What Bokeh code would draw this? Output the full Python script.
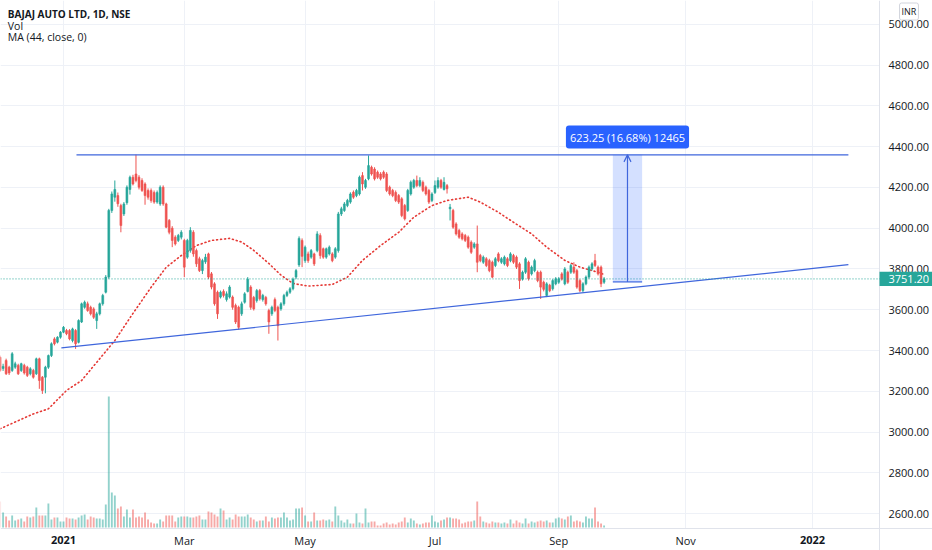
from bokeh.plotting import figure
from bokeh.models import (Range1d, FixedTicker, NumeralTickFormatter, ColumnDataSource, Label,
                          Arrow, OpenHead, Span, BoxAnnotation)
from bokeh.embed import file_html
from bokeh.resources import INLINE

# ---------------- data (bar index 0 = first session of 2021) ----------------
FIRST_BAR = -21
opens = [3367, 3312, 3351, 3318, 3302, 3318, 3327, 3302, 3327, 3318,
         3286, 3302, 3286, 3359, 3269, 3269, 3318, 3375, 3457, 3441,
         3465, 3490, 3498, 3498, 3449, 3498, 3440, 3540, 3612, 3629,
         3612, 3604, 3547, 3580, 3629, 3686, 3760, 4087, 4152, 4160,
         4111, 4070, 4125, 4190, 4250, 4266, 4250, 4234, 4217, 4185,
         4185, 4175, 4128, 4119, 4201, 4119, 4038, 4000, 3956, 3940,
         3956, 3940, 3858, 3890, 3980, 3890, 3850, 3792, 3835, 3874,
         3776, 3727, 3686, 3662, 3690, 3650, 3662, 3662, 3621, 3612,
         3580, 3637, 3690, 3711, 3660, 3645, 3694, 3650, 3660, 3596,
         3580, 3650, 3612, 3604, 3629, 3670, 3686, 3703, 3760, 3820,
         3940, 3841, 3874, 3858, 3874, 3890, 3964, 3899, 3858, 3874,
         3874, 3858, 3890, 4070, 4087, 4111, 4128, 4176, 4160, 4168,
         4258, 4201, 4242, 4299, 4290, 4275, 4266, 4275, 4266, 4201,
         4185, 4175, 4160, 4144, 4111, 4087, 4168, 4201, 4234, 4209,
         4225, 4201, 4185, 4136, 4175, 4201, 4234, 4190, 4209, 4095,
         4087, 4021, 3989, 3972, 3964, 3956, 3931, 3907, 3923, 3866,
         3833, 3850, 3841, 3833, 3817, 3874, 3833, 3825, 3850, 3841,
         3866, 3858, 3825, 3750, 3784, 3833, 3776, 3792, 3784, 3784,
         3735, 3670, 3720, 3703, 3727, 3735, 3776, 3727, 3784, 3784,
         3809, 3792, 3743, 3694, 3727, 3760, 3800, 3841, 3809, 3809,
         3735]
closes = [3302, 3322, 3286, 3290, 3384, 3335, 3286, 3335, 3290, 3278,
          3310, 3269, 3359, 3253, 3204, 3318, 3375, 3433, 3433, 3465,
          3490, 3514, 3482, 3457, 3506, 3433, 3547, 3629, 3637, 3596,
          3580, 3563, 3580, 3629, 3670, 3760, 4087, 4168, 4190, 4120,
          4013, 4119, 4201, 4250, 4217, 4234, 4201, 4185, 4160, 4152,
          4136, 4128, 4175, 4201, 4119, 4005, 3980, 3940, 3923, 3964,
          3980, 3809, 3940, 3989, 3874, 3825, 3792, 3841, 3858, 3760,
          3711, 3629, 3580, 3686, 3670, 3678, 3711, 3612, 3540, 3514,
          3629, 3678, 3750, 3612, 3604, 3694, 3654, 3670, 3629, 3540,
          3612, 3596, 3522, 3629, 3670, 3686, 3703, 3750, 3792, 3950,
          3862, 3907, 3841, 3890, 3825, 3972, 3866, 3858, 3899, 3907,
          3841, 3899, 4070, 4095, 4119, 4136, 4168, 4152, 4185, 4250,
          4217, 4234, 4307, 4266, 4242, 4250, 4242, 4250, 4185, 4168,
          4160, 4136, 4128, 4062, 4046, 4185, 4226, 4234, 4209, 4234,
          4185, 4168, 4128, 4168, 4209, 4234, 4201, 4225, 4193, 4103,
          4005, 3972, 3956, 3948, 3940, 3907, 3882, 3923, 3833, 3841,
          3858, 3817, 3792, 3760, 3850, 3841, 3850, 3858, 3817, 3874,
          3833, 3809, 3743, 3784, 3850, 3752, 3809, 3841, 3743, 3711,
          3700, 3727, 3694, 3743, 3752, 3752, 3750, 3800, 3735, 3817,
          3784, 3711, 3694, 3727, 3760, 3809, 3825, 3817, 3776, 3727,
          3751.20]
highs = [3375, 3335, 3360, 3325, 3392, 3345, 3335, 3340, 3335, 3325,
         3318, 3310, 3365, 3365, 3275, 3325, 3380, 3440, 3465, 3470,
         3495, 3520, 3506, 3505, 3512, 3505, 3553, 3635, 3645, 3640,
         3620, 3612, 3590, 3635, 3678, 3770, 4095, 4180, 4234, 4175,
         4120, 4128, 4210, 4258, 4262, 4361, 4260, 4245, 4225, 4195,
         4195, 4185, 4185, 4210, 4210, 4125, 4045, 4010, 3965, 3972,
         3990, 3948, 3948, 4005, 3990, 3900, 3860, 3850, 3874, 3880,
         3785, 3735, 3694, 3694, 3700, 3690, 3720, 3670, 3630, 3620,
         3640, 3686, 3760, 3720, 3668, 3702, 3702, 3678, 3668, 3605,
         3620, 3660, 3620, 3637, 3678, 3694, 3711, 3758, 3800, 3960,
         3950, 3915, 3885, 3898, 3880, 3985, 3975, 3905, 3905, 3915,
         3882, 3907, 4080, 4105, 4128, 4144, 4176, 4185, 4193, 4258,
         4275, 4242, 4357, 4307, 4299, 4283, 4275, 4283, 4275, 4209,
         4193, 4185, 4168, 4152, 4119, 4193, 4234, 4242, 4258, 4250,
         4234, 4209, 4193, 4176, 4234, 4250, 4242, 4250, 4217, 4119,
         4095, 4029, 3997, 3980, 3972, 3964, 3940, 3931, 4013, 3874,
         3866, 3858, 3850, 3841, 3858, 3882, 3858, 3866, 3858, 3882,
         3874, 3866, 3833, 3792, 3858, 3841, 3817, 3850, 3792, 3792,
         3743, 3735, 3727, 3750, 3760, 3760, 3784, 3809, 3792, 3825,
         3833, 3800, 3750, 3735, 3768, 3817, 3833, 3874, 3817, 3817,
         3760]
lows = [3295, 3300, 3280, 3280, 3295, 3310, 3280, 3295, 3282, 3270,
        3278, 3262, 3280, 3212, 3187, 3190, 3310, 3368, 3425, 3435,
        3458, 3485, 3475, 3450, 3440, 3408, 3435, 3535, 3605, 3590,
        3572, 3555, 3506, 3572, 3620, 3680, 3752, 4075, 4130, 4105,
        3980, 4060, 4115, 4165, 4210, 4225, 4190, 4178, 4115, 4140,
        4125, 4120, 4120, 4110, 4110, 4000, 3970, 3907, 3915, 3932,
        3945, 3760, 3850, 3880, 3860, 3810, 3785, 3775, 3825, 3750,
        3700, 3620, 3555, 3655, 3660, 3640, 3655, 3600, 3530, 3502,
        3570, 3630, 3685, 3600, 3596, 3635, 3645, 3640, 3620, 3482,
        3570, 3588, 3449, 3595, 3620, 3662, 3678, 3695, 3750, 3810,
        3809, 3830, 3830, 3850, 3815, 3882, 3850, 3850, 3850, 3866,
        3833, 3850, 3880, 4060, 4080, 4103, 4120, 4144, 4152, 4160,
        4185, 4193, 4235, 4258, 4234, 4242, 4234, 4242, 4177, 4160,
        4152, 4128, 4119, 4054, 4038, 4080, 4160, 4193, 4201, 4201,
        4177, 4160, 4119, 4128, 4168, 4193, 4193, 4185, 4170, 4038,
        3997, 3964, 3948, 3940, 3932, 3899, 3874, 3899, 3784, 3833,
        3825, 3809, 3784, 3755, 3809, 3833, 3825, 3817, 3809, 3833,
        3825, 3800, 3702, 3743, 3776, 3743, 3768, 3784, 3735, 3653,
        3690, 3662, 3686, 3694, 3720, 3727, 3743, 3720, 3727, 3776,
        3776, 3703, 3686, 3686, 3720, 3752, 3792, 3809, 3768, 3711,
        3727]
vol_thousands = [1560, 900, 660, 420, 720, 420, 480, 540, 360, 660,
                 600, 660, 1200, 720, 720, 720, 1440, 480, 600, 600,
                 360, 360, 600, 540, 540, 480, 600, 720, 780, 480,
                 660, 600, 540, 540, 480, 1380, 7860, 2100, 1920, 1140,
                 1260, 660, 1080, 600, 1080, 600, 660, 600, 900, 480,
                 300, 240, 240, 480, 360, 720, 720, 720, 360, 600,
                 660, 660, 660, 600, 600, 660, 720, 480, 480, 960,
                 900, 780, 660, 1140, 1020, 480, 600, 480, 780, 660,
                 660, 660, 780, 600, 480, 360, 420, 420, 660, 360,
                 600, 540, 600, 600, 900, 600, 420, 480, 1140, 1140,
                 1200, 720, 360, 360, 900, 420, 420, 480, 420, 480,
                 360, 1260, 720, 420, 300, 480, 240, 240, 840, 300,
                 240, 1140, 300, 360, 360, 120, 120, 240, 300, 180,
                 240, 180, 300, 360, 600, 300, 540, 420, 240, 180,
                 240, 300, 300, 720, 360, 300, 420, 480, 600, 600,
                 540, 540, 480, 240, 300, 360, 360, 420, 1560, 660,
                 360, 300, 240, 360, 300, 300, 240, 300, 240, 480,
                 240, 420, 300, 240, 540, 240, 360, 300, 360, 420,
                 360, 420, 300, 300, 540, 600, 540, 480, 660, 720,
                 360, 420, 360, 300, 660, 540, 540, 1200, 360, 240,
                 120]
ma_bars = [-21, -10, -5, 1, 6, 12, 17, 23, 29, 34,
           39, 44, 49, 55, 59, 63, 68, 72, 76, 81,
           85, 89, 94, 99, 105, 111, 116, 122, 127, 134,
           138, 144, 149, 155, 160, 166, 171, 177, 179]
ma_values = [3016, 3089, 3114, 3204, 3253, 3360, 3449, 3582, 3710, 3808,
             3866, 3915, 3940, 3950, 3932, 3891, 3827, 3770, 3729, 3716,
             3720, 3724, 3760, 3842, 3915, 3980, 4054, 4111, 4136, 4152,
             4128, 4078, 4029, 3972, 3907, 3842, 3809, 3784, 3773]
time_ticks = [0, 40, 80, 123, 164, 206, 248]
time_labels = ["2021", "Mar", "May", "Jul", "Sep", "Nov", "2022"]
year_ticks = [0, 248]
price_ticks = [2600, 2800, 3000, 3200, 3400, 3600, 3800, 4000, 4200, 4400, 4600, 4800, 5000]
last_close = 3751.20
support_bars = [-0.7, 259.9]
support_prices = [3413, 3821]
resistance_bars = [4.3, 259.9]
resistance_prices = [4360, 4360]
measure_bars = [181.9, 191.6]
measure_prices = [3736.5, 4359.75]
measure_text = "623.25 (16.68%) 12465"
legend_lines = ["BAJAJ AUTO LTD, 1D, NSE", "Vol", "MA (44, close, 0)"]
currency = "INR"

# ---------------- layout helpers (page pixel -> data) ----------------
W, H = 932, 550
SCALE_X = 879        # left edge of the price scale
TIME_Y = 528         # top edge of the time scale
BAR0_PX, BAR_PX = 63.0, 3.02
P5000_PY, PX_PER_RS = 23.85, 0.20385
VOL_BASE_PY, VOL_PER_PX = 527.0, 60.0


def bar_at(px):
    return (px - BAR0_PX) / BAR_PX


def price_at(py):
    return 5000 - (py - P5000_PY) / PX_PER_RS


UP, DOWN = "#26a69a", "#ef5350"
BLUE = "#3f66dc"
TXT = "#131722"
FONT = "Open Sans"

p = figure(width=W, height=H, min_border=0,
           x_range=Range1d(bar_at(0), bar_at(W)),
           y_range=Range1d(price_at(H), price_at(0)),
           y_axis_location="right", output_backend="svg", toolbar_location=None,
           tools="", background_fill_color="white", border_fill_color="white")
p.outline_line_color = None
p.extra_y_ranges = {"vol": Range1d((VOL_BASE_PY - H) * VOL_PER_PX, VOL_BASE_PY * VOL_PER_PX)}

# axes drawn at fixed positions inside the canvas
p.yaxis.fixed_location = bar_at(SCALE_X)
p.xaxis.fixed_location = price_at(TIME_Y)
p.yaxis.ticker = FixedTicker(ticks=price_ticks)
p.yaxis.formatter = NumeralTickFormatter(format="0.00")
p.xaxis.ticker = FixedTicker(ticks=time_ticks)
p.xaxis.major_label_overrides = {t: (" " if t in year_ticks else lab)
                                 for t, lab in zip(time_ticks, time_labels)}
for ax in (p.xaxis, p.yaxis):
    ax.major_label_text_font = FONT
    ax.major_label_text_font_size = "11px"
    ax.major_label_text_color = TXT
    ax.axis_line_color = "#e0e3eb"
    ax.major_tick_line_color = None
    ax.minor_tick_line_color = None
    ax.major_tick_out = 0
    ax.major_tick_in = 0
    ax.minor_tick_out = 0
    ax.minor_tick_in = 0
p.yaxis.major_label_standoff = 9
p.xaxis.major_label_standoff = 4
p.xgrid.ticker = p.xaxis.ticker
p.ygrid.ticker = p.yaxis.ticker
p.xgrid.grid_line_color = "#eef1f7"
p.ygrid.grid_line_color = "#eef1f7"

# keep the scale areas clean of grid lines
p.quad(left=bar_at(SCALE_X), right=bar_at(W), bottom=price_at(H), top=price_at(0),
       fill_color="white", line_color=None)
p.quad(left=bar_at(0), right=bar_at(SCALE_X), bottom=price_at(H), top=price_at(TIME_Y),
       fill_color="white", line_color=None)

# candles / volume
n = len(closes)
xs = list(range(FIRST_BAR, FIRST_BAR + n))
colors = [UP if c >= o else DOWN for o, c in zip(opens, closes)]
src = ColumnDataSource(dict(
    x=xs, o=opens, c=closes, h=highs, l=lows, v=vol_thousands, col=colors,
    top=[max(o, c) for o, c in zip(opens, closes)],
    bot=[min(o, c) for o, c in zip(opens, closes)]))

p.vbar(x="x", width=0.62, top="v", bottom=0, fill_color="col", line_color=None,
       fill_alpha=0.5, y_range_name="vol", source=src)
p.line(ma_bars, ma_values, line_color="#e53935", line_width=1.6, line_dash="1 3",
       line_cap="round")
p.segment(x0="x", y0="l", x1="x", y1="h", line_color="col", line_width=1, source=src)
p.vbar(x="x", width=0.62, top="top", bottom="bot", fill_color="col", line_color="col",
       line_width=0.6, source=src)

# current price line
p.add_layout(Span(location=last_close, dimension="width", line_color=UP,
                  line_dash="1 2", line_width=1))

# trend lines
p.line(support_bars, support_prices, line_color=BLUE, line_width=1.2)
p.line(resistance_bars, resistance_prices, line_color=BLUE, line_width=1.2)

# measurement tool
p.add_layout(BoxAnnotation(left=measure_bars[0], right=measure_bars[1],
                           bottom=measure_prices[0], top=measure_prices[1],
                           fill_color="#2962ff", fill_alpha=0.2, line_color=None))
p.line(measure_bars, [measure_prices[0]] * 2, line_color=BLUE, line_width=1.2)
mid = sum(measure_bars) / 2
p.add_layout(Arrow(end=OpenHead(size=7, line_color=BLUE, line_width=1.2),
                   x_start=mid, y_start=measure_prices[0], x_end=mid, y_end=measure_prices[1],
                   line_color=BLUE, line_width=1.2))
p.add_layout(Label(x=mid, y=price_at(136.5), text=measure_text, text_align="center",
                   text_baseline="middle", text_color="white", text_font=FONT,
                   text_font_size="11px", background_fill_color="#2962ff",
                   padding=4, border_radius=3))

# legend text top-left
legend_y = [13.3, 25.3, 36.8]
for k, line in enumerate(legend_lines):
    p.add_layout(Label(x=bar_at(7.3), y=price_at(legend_y[k]), text=line,
                       text_align="left", text_baseline="middle", text_color=TXT,
                       text_font=FONT, text_font_size="10px" if k == 0 else "10.5px",
                       text_font_style="bold" if k == 0 else "normal"))

# last price tag on the price scale
p.add_layout(BoxAnnotation(left=bar_at(SCALE_X), right=bar_at(W),
                           bottom=price_at(285.5), top=price_at(271.2),
                           fill_color=UP, fill_alpha=1.0, line_color=None))
p.add_layout(Label(x=bar_at(SCALE_X + 9), y=last_close, text=f"{last_close:.2f}",
                   text_align="left", text_baseline="middle", text_color="white",
                   text_font=FONT, text_font_size="11px"))
# currency badge
p.add_layout(Label(x=bar_at(908.5), y=price_at(11.0), text=currency, text_align="center",
                   text_baseline="middle", text_color=TXT, text_font=FONT,
                   text_font_size="9px", background_fill_color="white",
                   border_line_color="#d1d4dc", padding=2, border_radius=2))
# bold year labels on the time scale
for t in year_ticks:
    p.add_layout(Label(x=t, y=price_at(539.5), text=time_labels[time_ticks.index(t)],
                       text_align="center", text_baseline="middle", text_color=TXT,
                       text_font=FONT, text_font_size="11px", text_font_style="bold"))

open("out.html", "w").write(file_html(p, INLINE))
